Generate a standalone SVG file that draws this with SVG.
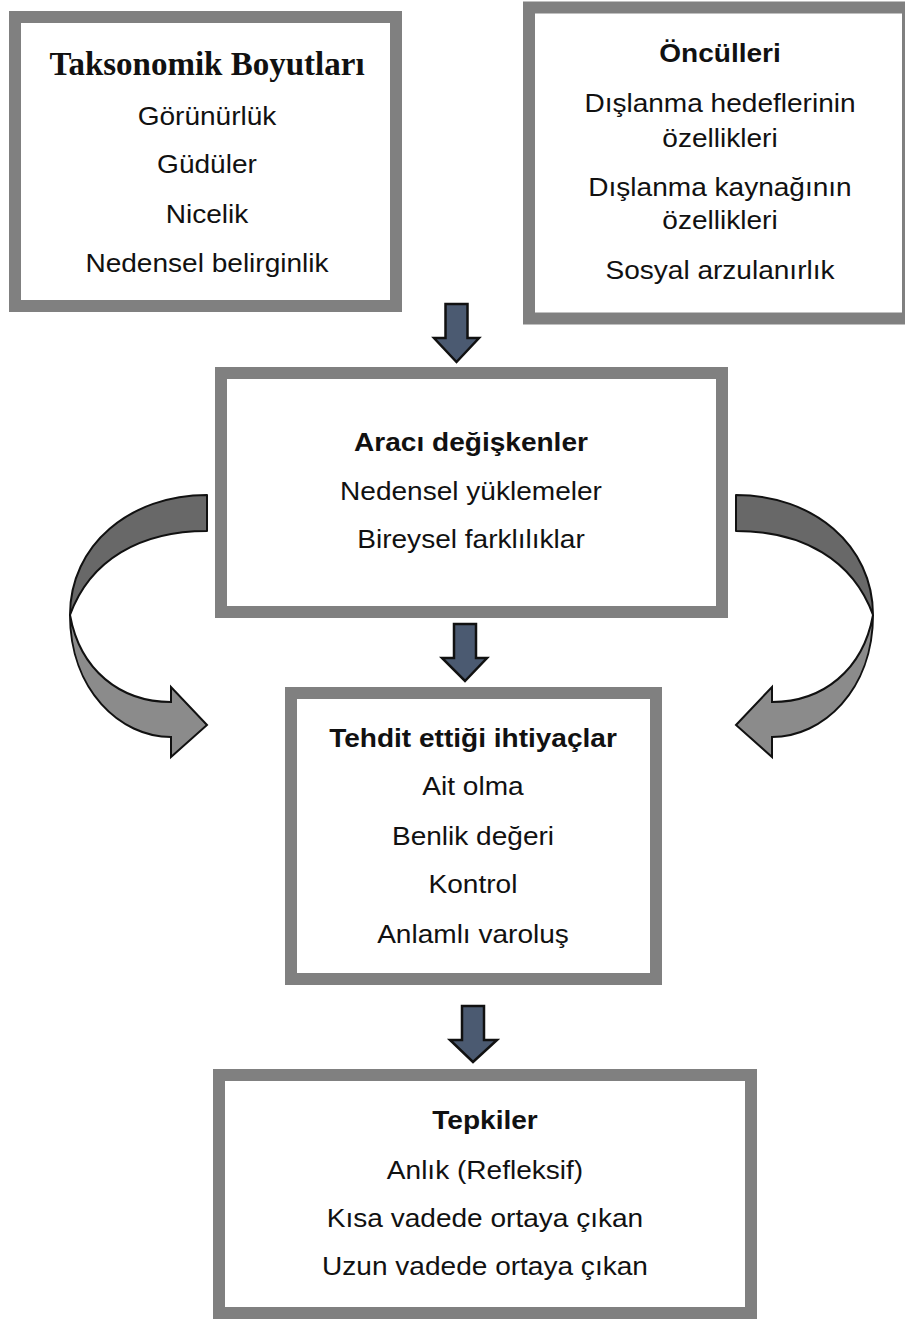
<svg xmlns="http://www.w3.org/2000/svg" width="905" height="1320" viewBox="0 0 905 1320">
<style>
.box{fill:#fff;stroke:#808080;stroke-width:12}
.t{font-family:"Liberation Sans",Arial,sans-serif;font-size:25.5px;fill:#111;text-anchor:middle}
.b{font-weight:bold}
.serif{font-family:"Liberation Serif","Times New Roman",serif;font-size:33px;font-weight:bold;fill:#111;text-anchor:middle}
.down{fill:#4b5a71;stroke:#111;stroke-width:2.5;stroke-linejoin:miter}
.dark{fill:#686868;stroke:#111;stroke-width:2;stroke-linejoin:round}
.light{fill:#8b8b8b;stroke:#111;stroke-width:2;stroke-linejoin:miter}
</style>
<defs>
<g id="curve">
<path class="light" d="M70,615 C70,690 120,737 171,737 L171,757 L207,725 L171,687 L171,702 C120,702 80,670 70,615 Z"/>
<path class="dark" d="M207,495 C130,495 70,545 70,615 C90,560 140,531 207,531 Z"/>
</g>
</defs>
<rect width="905" height="1320" fill="#fff"/>

<g id="connectors">
<path class="down" d="M445.5,304 H467.5 V338 H479 L456.5,362 L434,338 H445.5 Z"/>
<path class="down" d="M454,624 H476 V658 H487 L465,681 L442,658 H454 Z"/>
<path class="down" d="M462,1006 H484 V1040 H497 L473,1062 L450,1040 H462 Z"/>
<use href="#curve"/>
<use href="#curve" transform="translate(943,0) scale(-1,1)"/>
</g>

<g id="taksonomik">
<rect class="box" x="15" y="17" width="381" height="289"/>
<text class="serif" x="207" y="75">Taksonomik Boyutları</text>
<text class="t" transform="translate(207,125) scale(1.1,1)">Görünürlük</text>
<text class="t" transform="translate(207,173) scale(1.1,1)">Güdüler</text>
<text class="t" transform="translate(207,223) scale(1.1,1)">Nicelik</text>
<text class="t" transform="translate(207,272) scale(1.1,1)">Nedensel belirginlik</text>
</g>

<g id="onculleri">
<rect class="box" x="529" y="7.5" width="379" height="311"/>
<text class="t b" transform="translate(720,62) scale(1.1,1)">Öncülleri</text>
<text class="t" transform="translate(720,112) scale(1.1,1)">Dışlanma hedeflerinin</text>
<text class="t" transform="translate(720,147) scale(1.1,1)">özellikleri</text>
<text class="t" transform="translate(720,196) scale(1.1,1)">Dışlanma kaynağının</text>
<text class="t" transform="translate(720,229) scale(1.1,1)">özellikleri</text>
<text class="t" transform="translate(720,279) scale(1.1,1)">Sosyal arzulanırlık</text>
</g>

<g id="araci">
<rect class="box" x="221" y="373" width="501" height="239"/>
<text class="t b" transform="translate(471,451) scale(1.1,1)">Aracı değişkenler</text>
<text class="t" transform="translate(471,500) scale(1.1,1)">Nedensel yüklemeler</text>
<text class="t" transform="translate(471,548) scale(1.1,1)">Bireysel farklılıklar</text>
</g>

<g id="tehdit">
<rect class="box" x="291" y="693" width="365" height="286"/>
<text class="t b" transform="translate(473,747) scale(1.1,1)">Tehdit ettiği ihtiyaçlar</text>
<text class="t" transform="translate(473,795) scale(1.1,1)">Ait olma</text>
<text class="t" transform="translate(473,845) scale(1.1,1)">Benlik değeri</text>
<text class="t" transform="translate(473,893) scale(1.1,1)">Kontrol</text>
<text class="t" transform="translate(473,943) scale(1.1,1)">Anlamlı varoluş</text>
</g>

<g id="tepkiler">
<rect class="box" x="219" y="1075" width="532" height="238"/>
<text class="t b" transform="translate(485,1129) scale(1.1,1)">Tepkiler</text>
<text class="t" transform="translate(485,1179) scale(1.1,1)">Anlık (Refleksif)</text>
<text class="t" transform="translate(485,1227) scale(1.1,1)">Kısa vadede ortaya çıkan</text>
<text class="t" transform="translate(485,1275) scale(1.1,1)">Uzun vadede ortaya çıkan</text>
</g>
</svg>
